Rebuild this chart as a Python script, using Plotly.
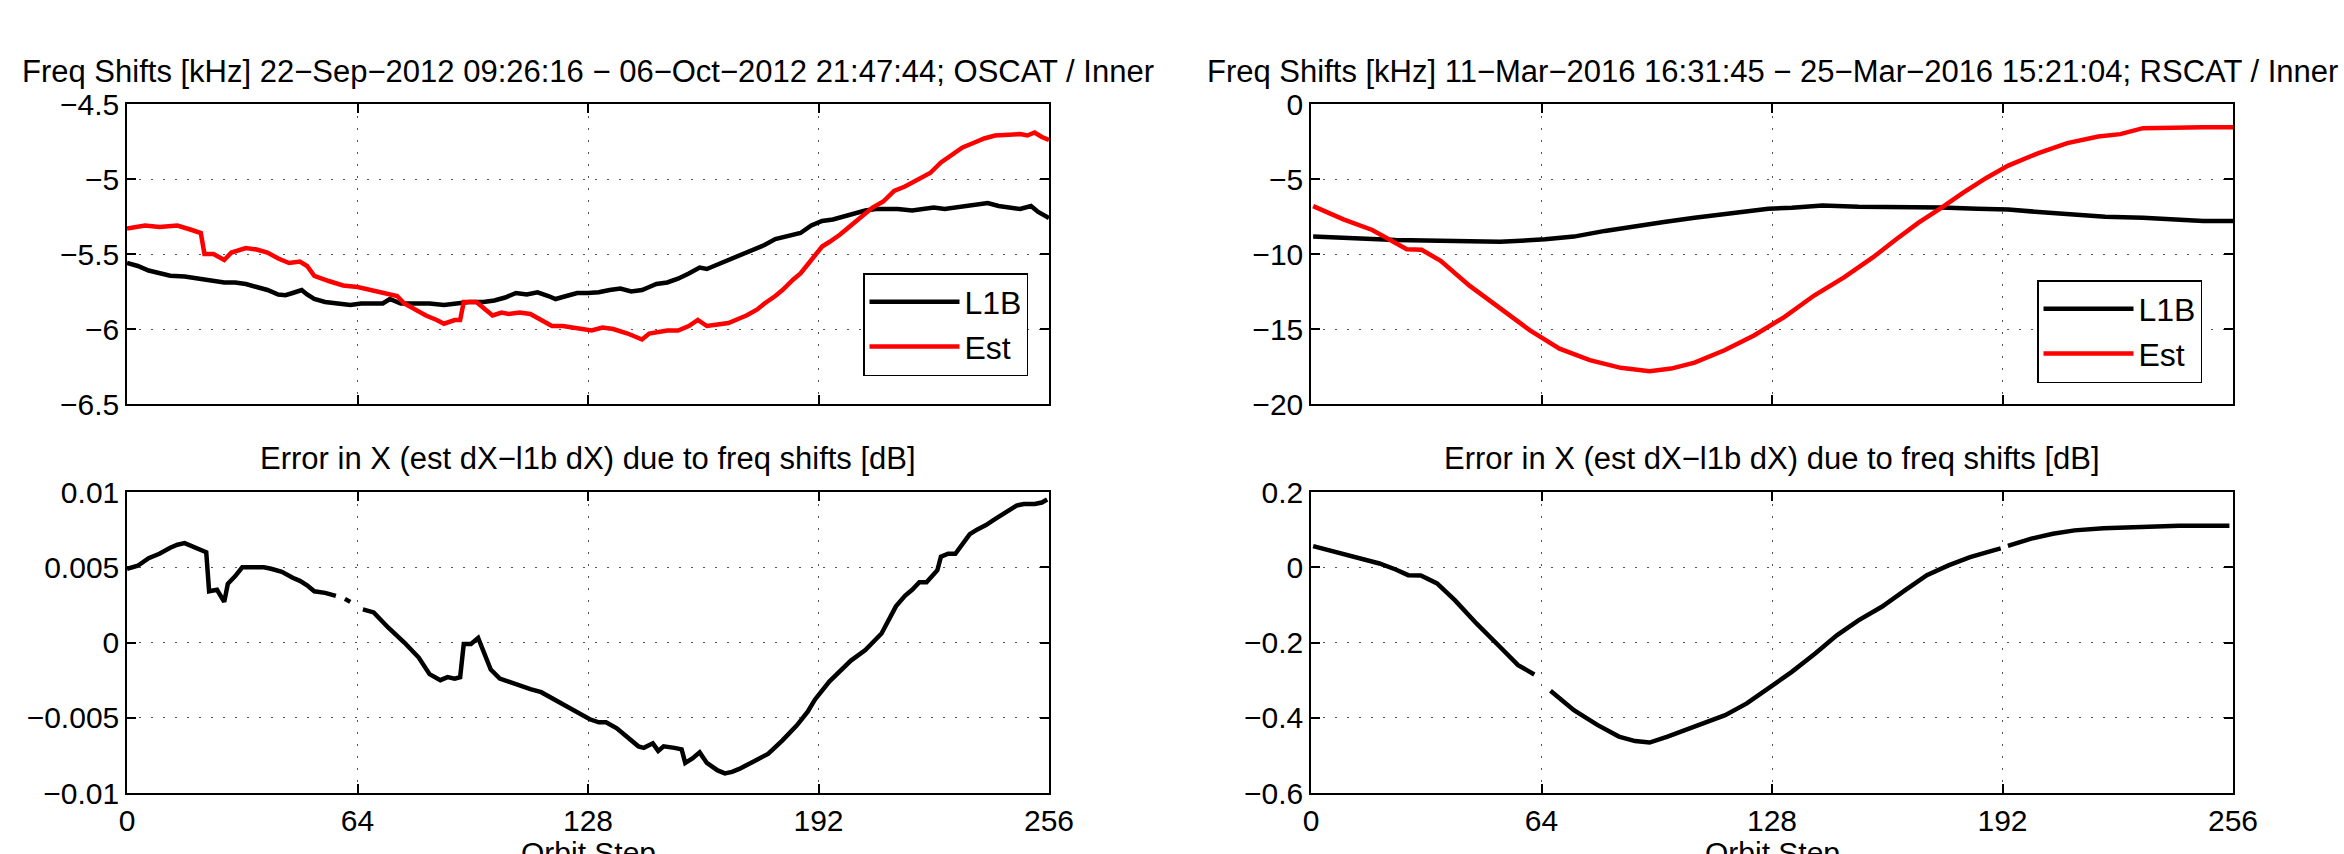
import plotly.graph_objects as go

# ---------------- data ----------------
oscat_l1b_x = [0, 3, 6, 9, 12, 16, 20, 24, 27, 30, 33, 36, 39, 42, 44, 46, 48.5, 50, 52, 55, 58, 62, 65, 68, 71, 73, 76, 80, 84, 88, 91, 95, 99, 102, 105, 108, 111, 114, 117, 119, 122, 125, 128, 131, 134, 137, 140, 143, 145, 147, 150, 153, 156, 159, 161, 164, 167, 170, 174, 177, 180, 183, 187, 190, 193, 196, 199, 202, 205, 208, 211, 214, 218, 221, 224, 227, 230, 233, 236, 239, 242, 245, 248, 251, 253, 256]
oscat_l1b_y = [-5.56, -5.58, -5.61, -5.63, -5.645, -5.65, -5.665, -5.68, -5.69, -5.69, -5.70, -5.72, -5.74, -5.77, -5.775, -5.76, -5.74, -5.77, -5.80, -5.82, -5.83, -5.84, -5.83, -5.83, -5.83, -5.80, -5.83, -5.83, -5.83, -5.84, -5.83, -5.82, -5.82, -5.81, -5.79, -5.76, -5.77, -5.755, -5.78, -5.80, -5.78, -5.76, -5.76, -5.755, -5.74, -5.73, -5.75, -5.74, -5.72, -5.70, -5.69, -5.665, -5.63, -5.59, -5.60, -5.57, -5.54, -5.51, -5.47, -5.44, -5.40, -5.38, -5.36, -5.31, -5.28, -5.27, -5.25, -5.23, -5.21, -5.20, -5.20, -5.20, -5.21, -5.20, -5.19, -5.20, -5.19, -5.18, -5.17, -5.16, -5.18, -5.19, -5.20, -5.18, -5.22, -5.26]

oscat_est_x = [0, 5, 9, 14, 18, 20.5, 21.5, 24, 27, 29, 33, 36, 39, 42, 45, 48, 50, 52, 56, 60, 64, 68, 72, 75, 77, 80, 83, 86, 88, 91, 92.5, 93.5, 97, 99, 101.5, 104, 106, 109, 112, 115, 118, 121, 124, 127, 129, 132, 135, 139, 143, 145, 147, 150, 153, 156, 158.5, 161, 164, 167, 170, 172, 175, 177, 180, 182, 185, 187, 189, 191, 193, 195, 198, 201, 204, 207, 210, 213, 216, 220, 223, 226, 229, 232, 235, 238, 241, 245, 248, 250, 252, 254, 256]
oscat_est_y = [-5.33, -5.31, -5.32, -5.31, -5.34, -5.36, -5.50, -5.50, -5.54, -5.49, -5.46, -5.47, -5.49, -5.53, -5.56, -5.55, -5.58, -5.645, -5.68, -5.71, -5.72, -5.74, -5.76, -5.78, -5.83, -5.87, -5.91, -5.94, -5.965, -5.94, -5.94, -5.82, -5.82, -5.86, -5.91, -5.89, -5.90, -5.89, -5.90, -5.94, -5.98, -5.98, -5.99, -6.00, -6.01, -5.99, -6.00, -6.03, -6.07, -6.03, -6.02, -6.01, -6.01, -5.98, -5.94, -5.98, -5.97, -5.96, -5.93, -5.91, -5.87, -5.83, -5.78, -5.74, -5.67, -5.63, -5.57, -5.51, -5.45, -5.42, -5.37, -5.31, -5.25, -5.19, -5.15, -5.08, -5.05, -5.00, -4.96, -4.89, -4.84, -4.79, -4.76, -4.73, -4.71, -4.705, -4.70, -4.71, -4.69, -4.72, -4.74]

oscat_err_x = [0, 3, 6, 9, 12, 14, 16, 18, 20.5, 22, 22.8, 25, 27, 28, 30, 32, 35, 38, 40, 43, 46, 48, 50, 52, 55, 58, None, 60.5, 62, None, 65.5, 68.5, 72.5, 77, 81, 84, 87, 89, 91, 92.5, 93.5, 95.5, 97.5, 99.5, 101, 103.5, 107, 109, 112, 115, 118, 121, 124.5, 128.5, 131, 133, 136, 139, 142, 143.5, 146, 147.5, 149, 152, 154, 155, 157, 159, 161, 164, 166, 168, 170, 174, 178, 182, 186, 189, 191, 195, 198, 201, 205, 209.5, 213.5, 216, 218, 220, 222, 224, 225, 226, 228, 230, 232, 234, 236, 238.5, 241, 243, 245, 247, 249, 252, 254, 255.5]
oscat_err_y = [0.0049, 0.0051, 0.0056, 0.0059, 0.0063, 0.0065, 0.0066, 0.0064, 0.0061, 0.0060, 0.0034, 0.0035, 0.0027, 0.0039, 0.0044, 0.0050, 0.0050, 0.0050, 0.0049, 0.0047, 0.0043, 0.0041, 0.0038, 0.0034, 0.0033, 0.0031, None, 0.0029, 0.0027, None, 0.0022, 0.0020, 0.0010, 0.0000, -0.0010, -0.0021, -0.0025, -0.0023, -0.0024, -0.0023, -0.0001, -0.0001, 0.0003, -0.0010, -0.0018, -0.0024, -0.0027, -0.0028, -0.0031, -0.0033, -0.0037, -0.0041, -0.0045, -0.0051, -0.0053, -0.0053, -0.0057, -0.0063, -0.0069, -0.0070, -0.0067, -0.0072, -0.0069, -0.0070, -0.0071, -0.0080, -0.0077, -0.0073, -0.0080, -0.0085, -0.0087, -0.0086, -0.0084, -0.0079, -0.0074, -0.0065, -0.0055, -0.0046, -0.0038, -0.0026, -0.0019, -0.0012, -0.0005, 0.0006, 0.0024, 0.0031, 0.0035, 0.0040, 0.0040, 0.0045, 0.0048, 0.0057, 0.0059, 0.0059, 0.0066, 0.0072, 0.0075, 0.0078, 0.0082, 0.0085, 0.0088, 0.0091, 0.0092, 0.0092, 0.0093, 0.0095]

rscat_l1b_x = [0.6, 13, 23.5, 40, 52.5, 65, 73, 81.6, 90, 98, 106.5, 117, 127, 133.5, 142, 152, 162.5, 175, 185, 193.6, 202, 210, 220.5, 231, 241.4, 247.7, 256]
rscat_l1b_y = [-8.84, -8.97, -9.06, -9.13, -9.19, -9.02, -8.84, -8.46, -8.13, -7.87, -7.58, -7.25, -6.98, -6.92, -6.76, -6.85, -6.85, -6.90, -6.98, -7.03, -7.20, -7.36, -7.51, -7.58, -7.73, -7.80, -7.80]

rscat_est_x = [0.6, 9, 17, 23.5, 26.6, 30.7, 36, 44, 52.5, 60.8, 69, 77.4, 86, 94, 100, 106.5, 114.8, 123, 131.4, 139.7, 148, 156, 162.5, 168.7, 175, 181, 187.5, 193.6, 202, 210, 218.6, 224.7, 231, 239.4, 247.7, 256]
rscat_est_y = [-6.81, -7.69, -8.40, -9.24, -9.68, -9.72, -10.45, -12.11, -13.66, -15.09, -16.31, -17.08, -17.59, -17.81, -17.64, -17.24, -16.42, -15.43, -14.21, -12.77, -11.56, -10.23, -9.02, -7.91, -6.92, -5.92, -4.93, -4.11, -3.27, -2.61, -2.17, -2.01, -1.61, -1.55, -1.55, -1.55]

rscat_err_x = [0.6, 7, 13, 19, 23.5, 27, 30.5, 35, 40, 46, 52.5, 57.5, 62, None, 66.5, 73, 79.5, 85.5, 90, 94, 99, 106.5, 115, 121, 127, 133.5, 140, 146, 152, 158.5, 165, 171, 177, 183, 189.5, 191.5, None, 193.5, 200, 206, 212, 220, 231, 241, 255]
rscat_err_y = [0.056, 0.041, 0.026, 0.010, -0.006, -0.021, -0.022, -0.043, -0.088, -0.150, -0.212, -0.260, -0.285, None, -0.328, -0.380, -0.419, -0.450, -0.462, -0.466, -0.450, -0.424, -0.393, -0.362, -0.322, -0.278, -0.229, -0.181, -0.141, -0.105, -0.061, -0.021, 0.005, 0.027, 0.045, 0.050, None, 0.057, 0.076, 0.089, 0.098, 0.1035, 0.107, 0.110, 0.110]

x_ticks = [0, 64, 128, 192, 256]
x_ticktext = ["0", "64", "128", "192", "256"]
y1_ticks = [-6.5, -6, -5.5, -5, -4.5]
y1_ticktext = ["\u22126.5", "\u22126", "\u22125.5", "\u22125", "\u22124.5"]
y2_ticks = [-0.01, -0.005, 0, 0.005, 0.01]
y2_ticktext = ["\u22120.01", "\u22120.005", "0", "0.005", "0.01"]
y3_ticks = [-20, -15, -10, -5, 0]
y3_ticktext = ["\u221220", "\u221215", "\u221210", "\u22125", "0"]
y4_ticks = [-0.6, -0.4, -0.2, 0, 0.2]
y4_ticktext = ["\u22120.6", "\u22120.4", "\u22120.2", "0", "0.2"]

title_oscat = "Freq Shifts [kHz] 22\u2212Sep\u22122012 09:26:16 \u2212 06\u2212Oct\u22122012 21:47:44; OSCAT / Inner"
title_rscat = "Freq Shifts [kHz] 11\u2212Mar\u22122016 16:31:45 \u2212 25\u2212Mar\u22122016 15:21:04; RSCAT / Inner"
title_err = "Error in X (est dX\u2212l1b dX) due to freq shifts [dB]"
x_title = "Orbit Step"

# ---------------- layout geometry ----------------
W, H = 2344, 854
FONT = "Liberation Sans, Arial, Helvetica, sans-serif"
LW = 4.5

def px_x(p):
    return p / W

def px_y(p):
    return 1 - p / H

left_dom = [px_x(127), px_x(1049)]
right_dom = [px_x(1311), px_x(2233)]
top_dom = [px_y(404), px_y(104)]
bot_dom = [px_y(793), px_y(492)]

fig = go.Figure()

fig.add_trace(go.Scatter(x=oscat_l1b_x, y=oscat_l1b_y, mode="lines", name="L1B",
                         line=dict(color="black", width=LW), xaxis="x", yaxis="y", legend="legend"))
fig.add_trace(go.Scatter(x=oscat_est_x, y=oscat_est_y, mode="lines", name="Est",
                         line=dict(color="#ff0000", width=LW), xaxis="x", yaxis="y", legend="legend"))
fig.add_trace(go.Scatter(x=oscat_err_x, y=oscat_err_y, mode="lines", showlegend=False,
                         line=dict(color="black", width=LW), xaxis="x2", yaxis="y2"))
fig.add_trace(go.Scatter(x=rscat_l1b_x, y=rscat_l1b_y, mode="lines", name="L1B",
                         line=dict(color="black", width=LW), xaxis="x3", yaxis="y3", legend="legend2"))
fig.add_trace(go.Scatter(x=rscat_est_x, y=rscat_est_y, mode="lines", name="Est",
                         line=dict(color="#ff0000", width=LW), xaxis="x3", yaxis="y3", legend="legend2"))
fig.add_trace(go.Scatter(x=rscat_err_x, y=rscat_err_y, mode="lines", showlegend=False,
                         line=dict(color="black", width=LW), xaxis="x4", yaxis="y4"))

axis_common = dict(
    showline=True, linecolor="black", linewidth=1.5, mirror="ticks",
    ticks="inside", ticklen=9, tickwidth=1.5, tickcolor="black",
    showgrid=True, gridcolor="#555555", gridwidth=1, griddash="2px,10px",
    zeroline=False, automargin=False,
    tickfont=dict(family=FONT, size=30, color="black"),
)

def xax(domain, anchor, labels):
    d = dict(axis_common)
    d.update(domain=domain, anchor=anchor, range=[0, 256], tickmode="array",
             tickvals=x_ticks, ticktext=x_ticktext, showticklabels=labels)
    return d

def yax(domain, anchor, rng, vals, text):
    d = dict(axis_common)
    d.update(domain=domain, anchor=anchor, range=rng, tickmode="array",
             tickvals=vals, ticktext=text)
    return d

legend_common = dict(
    bgcolor="white", bordercolor="black", borderwidth=1.5,
    font=dict(family=FONT, size=32, color="black"),
    xanchor="right", yanchor="bottom", itemwidth=90, tracegroupgap=0,
)

fig.update_layout(
    width=W, height=H,
    margin=dict(l=0, r=0, t=0, b=0, autoexpand=False),
    paper_bgcolor="white", plot_bgcolor="white",
    font=dict(family=FONT, size=30, color="black"),
    xaxis=xax(left_dom, "y", False),
    yaxis=yax(top_dom, "x", [-6.5, -4.5], y1_ticks, y1_ticktext),
    xaxis2=xax(left_dom, "y2", True),
    yaxis2=yax(bot_dom, "x2", [-0.01, 0.01], y2_ticks, y2_ticktext),
    xaxis3=xax(right_dom, "y3", False),
    yaxis3=yax(top_dom, "x3", [-20, 0], y3_ticks, y3_ticktext),
    xaxis4=xax(right_dom, "y4", True),
    yaxis4=yax(bot_dom, "x4", [-0.6, 0.2], y4_ticks, y4_ticktext),
    legend=dict(legend_common, x=px_x(1028), y=px_y(376)),
    legend2=dict(legend_common, x=px_x(2202), y=px_y(383)),
    showlegend=True,
)

title_font = dict(family=FONT, size=31, color="black")
for txt, cx, cy in [(title_oscat, 588, 72), (title_rscat, 1772, 72),
                    (title_err, 588, 458), (title_err, 1772, 458)]:
    fig.add_annotation(text=txt, x=px_x(cx), y=px_y(cy), xref="paper", yref="paper",
                       xanchor="center", yanchor="middle", showarrow=False, font=title_font)

# x-axis titles of the lower panels (partly below the page edge, as in the reference)
for cx in (588, 1772):
    fig.add_annotation(text=x_title, x=px_x(cx), y=px_y(834), xref="paper", yref="paper",
                       xanchor="center", yanchor="top", showarrow=False,
                       font=dict(family=FONT, size=30, color="black"))

fig.write_html("out.html", config={"displayModeBar": False},
               post_script="document.body.style.margin='0';document.body.style.overflow='hidden';")
